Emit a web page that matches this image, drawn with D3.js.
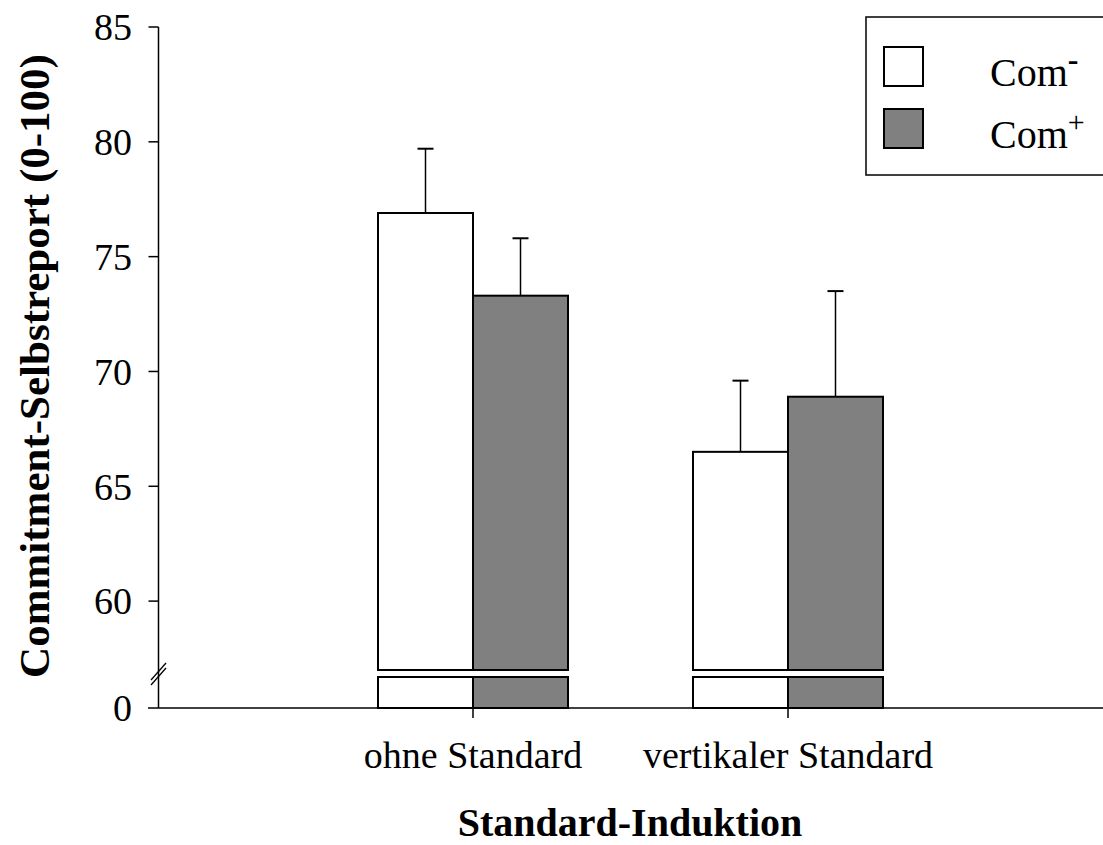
<!DOCTYPE html>
<html>
<head>
<meta charset="utf-8">
<script src="https://cdn.jsdelivr.net/npm/d3@7"></script>
<style>
  body { margin: 0; background: #fff; }
  text { font-family: "Liberation Serif", "Times New Roman", serif; fill: #000; }
</style>
</head>
<body>
<div class="chart"></div>
<script>
const groups = ["ohne Standard", "vertikaler Standard"];
const series = ["Com-", "Com+"];
const means = [[76.9, 73.3], [66.5, 68.9]];
const errors = [[2.8, 2.5], [3.1, 4.6]];
const yTicks = [60, 65, 70, 75, 80, 85];
const colors = ["#ffffff", "#808080"];

const width = 1103, height = 845;
const breakVal = 57;

const svg = d3.select(".chart").append("svg")
    .attr("width", width)
    .attr("height", height);

// upper part of the broken axis
const y = d3.scaleLinear()
    .domain([breakVal, 85])
    .range([670, 27]);

// short stub below the break, down to zero
const yLow = d3.scaleLinear()
    .domain([0, breakVal])
    .range([708, 677]);

const x0 = d3.scalePoint()
    .domain(groups)
    .range([473, 788]);

const barW = 95;
const x1 = d3.scaleBand()
    .domain(series)
    .range([-barW, barW]);

const rows = [];
groups.forEach((g, i) => series.forEach((s, j) => rows.push({group: g, key: s, mean: means[i][j], err: errors[i][j], j})));

const barX = d => x0(d.group) + x1(d.key);
const barMid = d => barX(d) + x1.bandwidth() / 2;

// bars, upper part
const bars = svg.append("g");
bars.selectAll("rect.upper")
    .data(rows)
  .enter().append("rect")
    .attr("class", "upper")
    .attr("x", barX)
    .attr("y", d => y(d.mean))
    .attr("width", x1.bandwidth())
    .attr("height", d => y(breakVal) - y(d.mean))
    .attr("fill", d => colors[d.j])
    .attr("stroke", "#000")
    .attr("stroke-width", 2);

// bars, below the break
bars.selectAll("rect.lower")
    .data(rows)
  .enter().append("rect")
    .attr("class", "lower")
    .attr("x", barX)
    .attr("y", yLow(breakVal))
    .attr("width", x1.bandwidth())
    .attr("height", yLow(0) - yLow(breakVal))
    .attr("fill", d => colors[d.j])
    .attr("stroke", "#000")
    .attr("stroke-width", 2);

// error bars
const eb = svg.append("g").attr("stroke", "#000");
eb.selectAll("line.v")
    .data(rows)
  .enter().append("line")
    .attr("stroke-width", 1.5)
    .attr("x1", barMid).attr("x2", barMid)
    .attr("y1", d => y(d.mean))
    .attr("y2", d => y(d.mean + d.err));
eb.selectAll("line.cap")
    .data(rows)
  .enter().append("line")
    .attr("stroke-width", 2)
    .attr("x1", d => barMid(d) - 8)
    .attr("x2", d => barMid(d) + 8)
    .attr("y1", d => y(d.mean + d.err))
    .attr("y2", d => y(d.mean + d.err));

// y axis
const axisX = 158.5;
const ax = svg.append("g").attr("stroke", "#000").attr("stroke-width", 1.5);
ax.append("line")
    .attr("x1", axisX).attr("x2", axisX)
    .attr("y1", y(85)).attr("y2", yLow(0));
ax.selectAll("line.tick")
    .data(yTicks)
  .enter().append("line")
    .attr("x1", axisX - 10).attr("x2", axisX)
    .attr("y1", d => y(d)).attr("y2", d => y(d));

// break marks
[0, -5].forEach(off => {
  ax.append("line")
      .attr("stroke-width", 1.3)
      .attr("x1", 151).attr("x2", 166)
      .attr("y1", 685 + off).attr("y2", 668 + off);
});

svg.selectAll("text.ytick")
    .data(yTicks.concat([0]))
  .enter().append("text")
    .attr("class", "ytick")
    .attr("x", 132)
    .attr("y", d => d === 0 ? yLow(0) : y(d))
    .attr("dy", "0.35em")
    .attr("text-anchor", "end")
    .style("font-size", "38px")
    .text(d => d);

// x axis
ax.append("line")
    .attr("x1", 148).attr("x2", width)
    .attr("y1", yLow(0)).attr("y2", yLow(0));
ax.selectAll("line.xtick")
    .data(groups)
  .enter().append("line")
    .attr("x1", d => x0(d)).attr("x2", d => x0(d))
    .attr("y1", yLow(0)).attr("y2", yLow(0) + 10);

svg.selectAll("text.xlab")
    .data(groups)
  .enter().append("text")
    .attr("x", d => x0(d))
    .attr("y", 768)
    .attr("text-anchor", "middle")
    .style("font-size", "38px")
    .text(d => d);

svg.append("text")
    .attr("x", 630)
    .attr("y", 836)
    .attr("text-anchor", "middle")
    .style("font-size", "40px")
    .style("font-weight", "bold")
    .text("Standard-Induktion");

svg.append("text")
    .attr("transform", "translate(49,366) rotate(-90)")
    .attr("text-anchor", "middle")
    .style("font-size", "43px")
    .style("font-weight", "bold")
    .text("Commitment-Selbstreport (0-100)");

// legend
const leg = svg.append("g");
leg.append("rect")
    .attr("x", 866).attr("y", 17)
    .attr("width", 260).attr("height", 158)
    .attr("fill", "#fff")
    .attr("stroke", "#000")
    .attr("stroke-width", 1.5);

const legItems = leg.selectAll("g.item")
    .data(series)
  .enter().append("g")
    .attr("transform", (d, i) => `translate(884,${47 + i * 62})`);
legItems.append("rect")
    .attr("width", 39).attr("height", 39)
    .attr("fill", (d, i) => colors[i])
    .attr("stroke", "#000")
    .attr("stroke-width", 2);
const lt = legItems.append("text")
    .attr("x", 106)
    .attr("y", 39)
    .style("font-size", "40px");
lt.append("tspan").text("Com");
lt.append("tspan")
    .attr("dy", -16)
    .style("font-size", (d, i) => i === 0 ? "32px" : "30px")
    .style("font-weight", (d, i) => i === 0 ? "bold" : "normal")
    .text((d, i) => i === 0 ? "-" : "+");
</script>
</body>
</html>
